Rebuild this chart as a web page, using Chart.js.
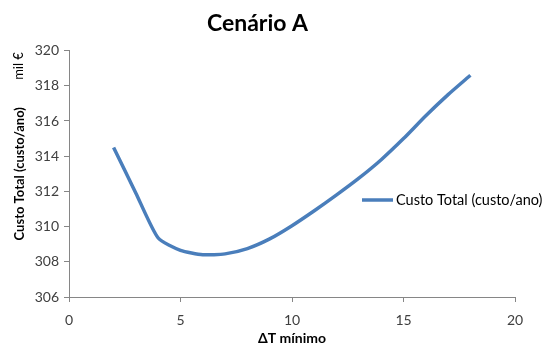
<!DOCTYPE html>
<html>
<head>
<meta charset="utf-8">
<script src="https://cdn.jsdelivr.net/npm/chart.js@4"></script>
<style>
  html, body { margin: 0; padding: 0; background: #fff; }
  #wrap { width: 547px; height: 347px; position: relative; }
</style>
</head>
<body>
<div id="wrap"><canvas id="c" width="547" height="347"></canvas></div>
<script>
// Minimum approach temperature (ΔT mínimo) vs total annual cost, thousand €
const deltaT = [2, 3, 4, 5, 6, 7, 8, 9, 10, 11, 12, 13, 14, 15, 16, 17, 18];
const custoTotal = [314.5, 311.9, 309.35, 308.65, 308.4, 308.45, 308.75, 309.3, 310.05, 310.9, 311.8, 312.75, 313.8, 315.0, 316.3, 317.5, 318.6];
const xTicks = [0, 5, 10, 15, 20];
const yTicks = [306, 308, 310, 312, 314, 316, 318, 320];
const seriesName = 'Custo Total (custo/ano)';

const FONT = 'Lato, "Open Sans", sans-serif';
const LINE_COLOR = '#4a7ebb';
const AXIS_COLOR = '#868686';
const TEXT_COLOR = '#404040';

// Legend sits inside the plot on the right; "mil €" unit note beside the y title
const extras = {
  id: 'extras',
  afterDraw(chart) {
    const ctx = chart.ctx;
    ctx.save();
    // legend
    const ly = 200;
    ctx.strokeStyle = LINE_COLOR;
    ctx.lineWidth = 3.5;
    ctx.beginPath();
    ctx.moveTo(362, ly);
    ctx.lineTo(393, ly);
    ctx.stroke();
    ctx.fillStyle = '#000';
    ctx.font = '14.5px ' + FONT;
    ctx.textBaseline = 'middle';
    ctx.textAlign = 'left';
    ctx.fillText(seriesName, 396, ly);
    // unit note
    ctx.translate(19, 66);
    ctx.rotate(-Math.PI / 2);
    ctx.textAlign = 'center';
    ctx.font = '13px ' + FONT;
    ctx.fillText('mil €', 0, 0);
    ctx.restore();
  }
};

new Chart(document.getElementById('c'), {
  type: 'line',
  data: {
    datasets: [{
      label: seriesName,
      data: deltaT.map((x, i) => ({ x, y: custoTotal[i] })),
      borderColor: LINE_COLOR,
      borderWidth: 3.5,
      pointRadius: 0,
      tension: 0.2,
      fill: false
    }]
  },
  options: {
    responsive: false,
    animation: false,
    layout: { padding: { top: 0, right: 32, bottom: 0, left: 0 } },
    plugins: {
      legend: { display: false },
      tooltip: { enabled: false },
      title: {
        display: true,
        text: 'Cenário A',
        color: '#000',
        font: { family: FONT, size: 23, weight: 'bold' },
        padding: { top: 10, bottom: 13 }
      }
    },
    scales: {
      x: {
        type: 'linear',
        min: 0, max: 20,
        afterBuildTicks: s => { s.ticks = xTicks.map(v => ({ value: v })); },
        afterFit: s => { s.height = 50; },
        border: { display: true, color: AXIS_COLOR, width: 1 },
        grid: { drawOnChartArea: false, drawTicks: true, tickLength: 5, color: AXIS_COLOR },
        ticks: { color: TEXT_COLOR, font: { family: FONT, size: 14 }, padding: 10, maxRotation: 0 },
        title: {
          display: true,
          text: 'ΔT mínimo',
          color: '#000',
          font: { family: FONT, size: 14, weight: 'bold' },
          padding: { top: 0, bottom: 0 }
        }
      },
      y: {
        min: 306, max: 320,
        afterBuildTicks: s => { s.ticks = yTicks.map(v => ({ value: v })); },
        afterFit: s => { s.width = 69; },
        border: { display: true, color: AXIS_COLOR, width: 1 },
        grid: { drawOnChartArea: false, drawTicks: true, tickLength: 5, color: AXIS_COLOR },
        ticks: { color: TEXT_COLOR, font: { family: FONT, size: 14 }, padding: 5 },
        title: {
          display: true,
          text: seriesName,
          color: '#000',
          font: { family: FONT, size: 13, weight: 'bold' },
          padding: { top: 12, bottom: 4 }
        }
      }
    }
  },
  plugins: [extras]
});
</script>
</body>
</html>
